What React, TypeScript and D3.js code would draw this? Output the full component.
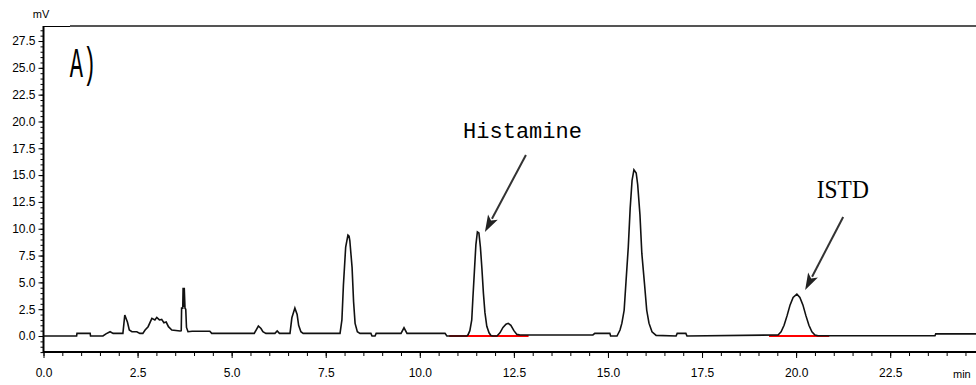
import { useEffect, useRef } from "react";
import * as d3 from "d3";

const WIDTH = 976;
const HEIGHT = 385;

// retention time (min) and detector signal (mV)
const TRACE_TIME = [
  0, 0.88, 0.89, 1.24, 1.25, 1.58, 1.66, 1.77, 1.85, 2.11, 2.16, 2.23, 2.28, 2.35, 2.48, 2.56, 2.64,
  2.7, 2.78, 2.88, 2.96, 3.01, 3.08, 3.14, 3.2, 3.26, 3.32, 3.41, 3.63, 3.66, 3.67, 3.7, 3.71, 3.73,
  3.74, 3.76, 3.78, 3.8, 3.84, 3.95, 4.42, 4.47, 5.6, 5.71, 5.78, 5.83, 5.91, 6.15, 6.21, 6.27, 6.55,
  6.6, 6.68, 6.74, 6.78, 6.84, 6.9, 7.88, 7.93, 7.97, 8.03, 8.09, 8.12, 8.14, 8.2, 8.24, 8.28, 8.34,
  8.41, 8.7, 8.73, 8.81, 8.84, 9.5, 9.58, 9.66, 10.67, 10.72, 11.25, 11.28, 11.33, 11.38, 11.41,
  11.45, 11.49, 11.53, 11.57, 11.61, 11.65, 11.69, 11.73, 11.78, 11.84, 11.89, 11.94, 12.05, 12.13,
  12.21, 12.29, 12.35, 12.42, 12.5, 12.58, 12.66, 14.6, 14.65, 15.05, 15.07, 15.24, 15.32, 15.37,
  15.43, 15.48, 15.54, 15.59, 15.64, 15.69, 15.75, 15.79, 15.85, 15.9, 15.97, 16.03, 16.09, 16.17,
  16.28, 16.81, 16.84, 17.07, 17.1, 19.52, 19.6, 19.68, 19.76, 19.84, 19.92, 20.02, 20.1, 20.18,
  20.26, 20.34, 20.42, 20.5, 20.58, 23.69, 23.71, 24.78,
];
const TRACE_MV = [
  0, 0, 0.25, 0.25, 0, 0, 0.2, 0.4, 0.25, 0.25, 1.96, 1.3, 0.56, 0.4, 0.4, 0.25, 0.25,
  0.56, 0.87, 1.65, 1.5, 1.74, 1.5, 1.55, 1.24, 1.3, 0.87, 0.56, 0.47, 0.5, 2.6, 2.6, 4.5, 2.7,
  4.5, 2.6, 2.5, 0.8, 0.4, 0.45, 0.45, 0.25, 0.25, 0.93, 0.7, 0.4, 0.25, 0.25, 0.47, 0.25, 0.25,
  1.7, 2.6, 2.0, 1.0, 0.4, 0.25, 0.25, 1.5, 4.75, 8.3, 9.4, 9.3, 8.9, 6.4, 3.2, 1.18, 0.4,
  0.25, 0.25, 0, 0, 0.25, 0.25, 0.77, 0.25, 0.25, 0, 0, 0.1, 0.5, 1.5, 3.5,
  6.0, 8.5, 9.7, 9.6, 8.3, 6.3, 4.0, 2.2, 0.9, 0.3, 0.05, 0, 0, 0.3,
  0.8, 1.1, 1.18, 1.0, 0.5, 0.15, 0.1, 0.1, 0.25, 0.25, 0, 0, 0.56, 1.2,
  2.4, 5.1, 8.3, 11.9, 14.5, 15.5, 15.2, 14.1, 11.3, 7.7, 4.9, 2.4, 1.2, 0.4,
  0.06, 0, 0.25, 0.25, 0, 0.1, 0.4, 1.0, 1.9, 2.9, 3.6, 3.9, 3.6, 2.9,
  1.9, 1.0, 0.4, 0.1, 0.03, 0.03, 0.2, 0.2,
];

const X_MAJOR = [0, 2.5, 5, 7.5, 10, 12.5, 15, 17.5, 20, 22.5];
const Y_MAJOR = [0, 2.5, 5, 7.5, 10, 12.5, 15, 17.5, 20, 22.5, 25, 27.5];

// integration baselines (start, end) in min
const INTEGRATION = [
  [10.78, 12.89],
  [19.28, 20.88],
];

// peak labels: text position and arrow (from -> tip), in min / mV
const LABELS = ["Histamine", "ISTD"];
const LABEL_POS = [
  [11.15, 18.45],
  [20.55, 12.86],
];
const ARROW_FROM = [
  [12.82, 16.87],
  [21.25, 11.09],
];
const ARROW_TIP = [
  [11.73, 9.69],
  [20.24, 4.29],
];

export default function App() {
  const ref = useRef<SVGSVGElement | null>(null);

  useEffect(() => {
    if (!ref.current) return;
    const svg = d3.select(ref.current);
    svg.selectAll("*").remove();

    const x = d3.scaleLinear().domain([0, 24.78]).range([43.5, WIDTH]);
    const y = d3.scaleLinear().domain([-1.49, 28.9]).range([352, 26]);
    const font = "'Liberation Sans', Arial, sans-serif";

    // frame top
    svg.append("line").attr("x1", 43).attr("x2", 70).attr("y1", 26.5).attr("y2", 26.5)
      .attr("stroke", "#000").attr("stroke-width", 1);
    svg.append("line").attr("x1", 70).attr("x2", WIDTH).attr("y1", 26).attr("y2", 26)
      .attr("stroke", "#555").attr("stroke-width", 2);

    // minor ticks
    const yMinor = d3.range(-1.5, 28.9, 0.5);
    const xMinor = d3.range(0, 24.78, 0.5);
    svg.append("g").attr("transform", "translate(43.5,0)")
      .call(d3.axisLeft(y).tickValues(yMinor).tickSize(3).tickFormat(() => ""))
      .call((g) => g.select(".domain").remove());
    svg.append("g").attr("transform", "translate(0,352)")
      .call(d3.axisBottom(x).tickValues(xMinor).tickSize(4).tickFormat(() => ""))
      .call((g) => g.select(".domain").remove());

    // major ticks and labels
    svg.append("g").attr("transform", "translate(43.5,0)")
      .call(d3.axisLeft(y).tickValues(Y_MAJOR).tickSize(5).tickPadding(3).tickFormat(d3.format(".1f")))
      .call((g) => g.select(".domain").remove())
      .call((g) => g.selectAll("text").attr("font-family", font).attr("font-size", 12).attr("fill", "#000"));
    svg.append("g").attr("transform", "translate(0,352)")
      .call(d3.axisBottom(x).tickValues(X_MAJOR).tickSize(6).tickPadding(10).tickFormat(d3.format(".1f")))
      .call((g) => g.select(".domain").remove())
      .call((g) => g.selectAll("text").attr("font-family", font).attr("font-size", 12).attr("fill", "#000"));

    // axis lines
    svg.append("line").attr("x1", 43.5).attr("x2", 43.5).attr("y1", 26).attr("y2", 353)
      .attr("stroke", "#000").attr("stroke-width", 2);
    svg.append("line").attr("x1", 43).attr("x2", WIDTH).attr("y1", 352).attr("y2", 352)
      .attr("stroke", "#000").attr("stroke-width", 2);

    svg.append("text").attr("x", 41).attr("y", 18).attr("text-anchor", "middle")
      .attr("font-family", font).attr("font-size", 11).text("mV");
    svg.append("text").attr("x", 953).attr("y", 378)
      .attr("font-family", font).attr("font-size", 11).text("min");

    // integration baselines
    INTEGRATION.forEach(([a, b]) => {
      svg.append("line").attr("x1", x(a)).attr("x2", x(b)).attr("y1", y(0)).attr("y2", y(0))
        .attr("stroke", "#ff0000").attr("stroke-width", 2);
    });

    // chromatogram
    const points = TRACE_TIME.map((t, i) => [t, TRACE_MV[i]] as [number, number]);
    const line = d3.line<[number, number]>().x((d) => x(d[0])).y((d) => y(d[1]));
    svg.append("path").datum(points).attr("d", line)
      .attr("fill", "none").attr("stroke", "#111").attr("stroke-width", 1.6)
      .attr("stroke-linejoin", "miter");

    // panel label
    svg.append("text")
      .attr("transform", `translate(${x(0.7)},${y(24.14)}) scale(1,1.9)`)
      .attr("font-family", "'Liberation Mono', monospace").attr("font-size", 22)
      .text("A)");

    // peak labels + arrows
    LABELS.forEach((label, i) => {
      const [lt, lv] = LABEL_POS[i];
      const t = svg.append("text").attr("x", x(lt)).attr("y", y(lv)).text(label);
      if (label === "ISTD") {
        t.attr("font-family", "'Liberation Serif', serif").attr("font-size", 26)
          .attr("textLength", 52).attr("lengthAdjust", "spacingAndGlyphs");
      } else {
        t.attr("font-family", "'Liberation Mono', monospace").attr("font-size", 22);
      }

      const x0 = x(ARROW_FROM[i][0]);
      const y0 = y(ARROW_FROM[i][1]);
      const x1 = x(ARROW_TIP[i][0]);
      const y1 = y(ARROW_TIP[i][1]);
      const len = Math.hypot(x1 - x0, y1 - y0);
      const ux = (x1 - x0) / len;
      const uy = (y1 - y0) / len;
      const head = 17;
      const half = 5.5;
      const bx = x1 - ux * head;
      const by = y1 - uy * head;
      svg.append("line").attr("x1", x0).attr("y1", y0).attr("x2", bx + ux * 2).attr("y2", by + uy * 2)
        .attr("stroke", "#333").attr("stroke-width", 2);
      svg.append("polygon")
        .attr("points", [
          [x1, y1],
          [bx - uy * half, by + ux * half],
          [bx + ux * 4, by + uy * 4],
          [bx + uy * half, by - ux * half],
        ].map((p) => p.join(",")).join(" "))
        .attr("fill", "#222");
    });
  }, []);

  return (
    <svg
      ref={ref}
      width={WIDTH}
      height={HEIGHT}
      style={{ position: "absolute", left: 0, top: 0, background: "#fff" }}
    />
  );
}
